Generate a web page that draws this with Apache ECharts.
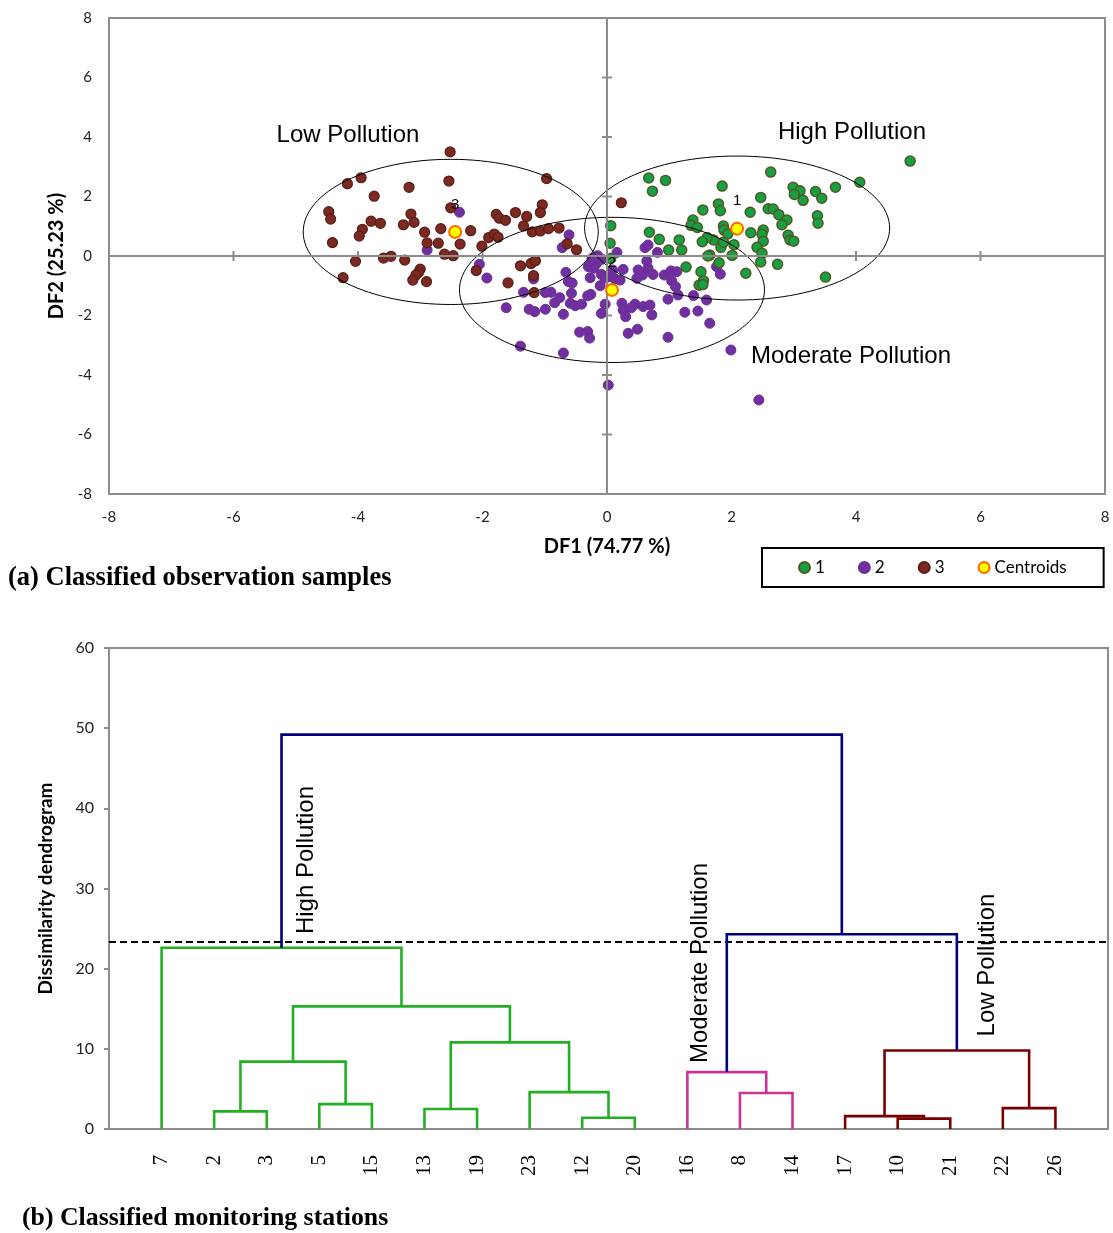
<!DOCTYPE html>
<html><head><meta charset="utf-8">
<script src="https://cdn.jsdelivr.net/npm/echarts@6/dist/echarts.min.js"></script>
<style>html,body{margin:0;padding:0;background:#fff}#c{width:1113px;height:1233px}</style>
</head><body><div id="c"></div>
<script>
// ---------- (a) discriminant scores ----------
const group1 = [[4.87,3.19],[4.06,2.48],[3.67,2.31],[3.35,2.17],[3.45,1.94],[3.38,1.35],[3.39,1.10],[2.99,2.31],[3.10,2.19],[3.01,2.07],[3.15,1.87],[2.63,2.82],[2.47,1.97],[2.59,1.59],[2.67,1.58],[2.76,1.39],[2.89,1.21],[2.81,1.05],[2.91,0.70],[2.94,0.54],[3.00,0.50],[2.30,1.47],[1.85,2.35],[1.79,1.75],[1.82,1.52],[1.54,1.55],[1.38,1.21],[1.35,1.03],[1.45,0.96],[1.87,1.01],[1.88,0.87],[1.94,0.74],[2.31,0.78],[2.51,0.87],[2.49,0.73],[2.51,0.50],[2.41,0.29],[2.49,0.09],[2.47,-0.20],[2.74,-0.28],[2.23,-0.58],[3.51,-0.71],[2.04,0.38],[2.01,0.02],[1.83,0.29],[1.87,0.46],[1.71,0.54],[1.61,0.62],[1.53,0.48],[1.65,0.03],[1.62,0.00],[1.80,-0.23],[1.51,-0.53],[1.55,-0.83],[1.48,-0.98],[1.54,-0.96],[1.27,-0.37],[1.16,0.54],[1.20,0.20],[0.99,0.20],[0.84,0.56],[0.68,0.80],[0.67,2.62],[0.94,2.54],[0.73,2.18],[0.06,1.02],[0.05,0.43],[0.06,-0.08]];
const group2 = [[-2.37,1.47],[-2.89,0.20],[-0.61,0.71],[-0.72,0.28],[-2.05,-0.28],[-1.93,-0.74],[-1.34,-1.22],[-1.18,-0.77],[-1.62,-1.74],[-1.25,-1.79],[-1.16,-1.87],[-0.99,-1.79],[-0.90,-1.22],[-0.84,-1.57],[-0.99,-1.23],[-0.70,-1.96],[-0.44,-2.56],[-0.31,-2.54],[-0.28,-2.76],[-0.70,-3.26],[-1.39,-3.03],[0.34,-2.60],[0.49,-2.46],[0.98,-2.73],[1.99,-3.16],[0.02,-4.34],[2.44,-4.84],[0.16,0.12],[0.61,0.28],[0.66,0.37],[0.81,0.12],[-0.24,-0.08],[-0.15,0.01],[-0.30,-0.36],[-0.17,-0.25],[-0.66,-0.55],[-0.62,-0.86],[-0.27,-0.73],[-0.09,-0.62],[0.02,-0.70],[0.13,-0.77],[0.26,-0.45],[0.21,-0.81],[-0.11,-1.00],[-0.26,-1.29],[-0.31,-1.34],[-0.57,-1.25],[-0.76,-1.40],[-0.59,-1.59],[-0.51,-1.67],[-0.41,-1.62],[-0.03,-1.62],[-0.09,-1.93],[0.24,-1.59],[0.26,-1.82],[0.30,-2.04],[0.45,-1.62],[0.58,-1.70],[0.69,-1.65],[0.72,-1.98],[0.50,-0.47],[0.57,-0.64],[0.66,-0.41],[0.64,-0.17],[0.74,-0.62],[0.48,-0.75],[0.92,-0.64],[1.03,-0.50],[1.12,-0.53],[1.04,-0.84],[1.10,-1.03],[0.98,-1.45],[1.14,-1.31],[1.39,-1.33],[1.60,-1.48],[1.25,-1.89],[1.46,-1.85],[1.76,-0.36],[1.82,-0.61],[1.65,-2.26],[-0.21,-0.17],[-0.08,-0.11],[0.05,-0.61],[0.09,-0.47],[-0.03,-0.74],[0.39,-1.74],[-0.28,-0.31],[-0.21,-0.41],[-0.56,-0.91]];
const group3 = [[-2.52,3.50],[-4.17,2.43],[-3.95,2.63],[-3.18,2.31],[-2.54,2.52],[-0.97,2.60],[-3.74,2.01],[-4.47,1.49],[-4.44,1.24],[-3.15,1.41],[-2.51,1.62],[-3.79,1.17],[-3.64,1.10],[-3.27,1.05],[-3.10,1.13],[-3.93,0.90],[-3.98,0.67],[-4.41,0.45],[-2.93,0.80],[-2.67,0.92],[-2.89,0.44],[-2.71,0.43],[-2.36,0.40],[-2.19,0.85],[-2.61,0.06],[-2.47,0.01],[-2.01,0.33],[-1.90,0.62],[-1.81,0.74],[-1.75,0.63],[-1.78,1.40],[-1.73,1.27],[-1.63,1.20],[-1.47,1.46],[-1.29,1.33],[-1.04,1.72],[-1.07,1.46],[-1.34,1.01],[-1.20,0.81],[-1.07,0.84],[-0.94,0.92],[-0.77,0.94],[-0.64,0.41],[-0.49,0.21],[-4.04,-0.18],[-3.59,-0.07],[-3.47,-0.01],[-3.25,-0.14],[-3.00,-0.44],[-3.03,-0.56],[-3.07,-0.64],[-3.12,-0.81],[-2.90,-0.86],[-4.24,-0.73],[-2.10,-0.49],[-1.59,-0.90],[-1.39,-0.33],[-1.22,-0.25],[-1.15,-0.16],[-1.18,-0.66],[-1.17,-1.23],[0.23,1.79]];
const centroids = [[2.09,0.92],[0.08,-1.14],[-2.44,0.81]];
const centroidNames = ['1','2','3'];
// ellipse: centre x, centre y, radius x, radius y (DF units)
const ellipses = [[2.09,0.94,2.45,2.42],[0.08,-1.14,2.45,2.44],[-2.51,0.81,2.37,2.44]];
const ellipseNames = ['High Pollution','Moderate Pollution','Low Pollution'];
const crossTicks = [-6,-4,-2,2,4,6];
const seriesNames = ['1','2','3','Centroids'];

// ---------- (b) dendrogram ----------
const leafLabels = ['7','2','3','5','15','13','19','23','12','20','16','8','14','17','10','21','22','26'];
// [child A, child B, dissimilarity, cluster] ; children 0..17 are leaves, 18+ are earlier merges
const merges = [
  [1,2,2.2,'high'],[3,4,3.1,'high'],[18,19,8.4,'high'],[5,6,2.5,'high'],[8,9,1.4,'high'],
  [7,22,4.6,'high'],[21,23,10.8,'high'],[20,24,15.3,'high'],[0,25,22.6,'high'],
  [11,12,4.5,'moderate'],[10,27,7.1,'moderate'],
  [14,15,1.3,'low'],[13,29,1.6,'low'],[16,17,2.6,'low'],[30,31,9.8,'low'],
  [28,32,24.3,'link'],[26,33,49.2,'link']
];
const cutHeight = 23.4;
const dendroNames = ['High Pollution','Moderate Pollution','Low Pollution'];

const clusterColors = {high:'#22b022', moderate:'#cc3399', low:'#7a0000', link:'#000080'};
const nodeX = leafLabels.map((_, i) => i + 1);
const nodeY = leafLabels.map(() => 0);
const links = [];
merges.forEach(([a, b, h, g]) => {
  links.push([nodeX[a], nodeY[a], nodeX[b], nodeY[b], h, g]);
  nodeX.push((nodeX[a] + nodeX[b]) / 2);
  nodeY.push(h);
});

const tickData = crossTicks.map(v => [v, 0, 0]).concat(crossTicks.map(v => [0, v, 1]));
const axisFont = 'Lato';
const grey = '#8c8c8c';

const chart = echarts.init(document.getElementById('c'), null, {renderer:'canvas'});
chart.setOption({
  animation: false,
  backgroundColor: '#fff',
  grid: [
    {left:109, top:18, width:996, height:476, show:true, borderColor:grey, borderWidth:2, backgroundColor:'transparent'},
    {left:109, top:648, width:999, height:481, show:true, borderColor:grey, borderWidth:2, backgroundColor:'transparent'}
  ],
  legend: {
    data: seriesNames, left:762, top:548, orient:'horizontal',
    borderColor:'#000', borderWidth:2, padding:[11,37,11,36], itemGap:33,
    itemWidth:11, itemHeight:11, icon:'circle',
    textStyle:{fontSize:17, fontFamily:axisFont, color:'#000'}
  },
  xAxis: [
    {gridIndex:0, type:'value', min:-8, max:8, interval:2,
     axisLine:{show:false, onZero:false}, axisTick:{show:false}, splitLine:{show:false},
     axisLabel:{fontSize:15, fontFamily:axisFont, color:'#222', margin:16},
     name:'DF1 (74.77 %)', nameLocation:'middle', nameGap:43,
     nameTextStyle:{fontSize:20, fontWeight:'bold', fontFamily:axisFont, color:'#000'}},
    {gridIndex:1, type:'value', min:0, max:19, interval:1,
     axisLine:{show:true, onZero:false, lineStyle:{color:grey, width:2}}, axisTick:{show:false}, splitLine:{show:false},
     axisLabel:{rotate:90, margin:26, fontSize:21, fontFamily:'Liberation Serif', color:'#000',
       formatter: v => leafLabels[v - 1] || ''}}
  ],
  yAxis: [
    {gridIndex:0, type:'value', min:-8, max:8, interval:2,
     axisLine:{show:false, onZero:false}, axisTick:{show:false}, splitLine:{show:false},
     axisLabel:{fontSize:15, fontFamily:axisFont, color:'#222', margin:17},
     name:'DF2 (25.23 %)', nameLocation:'middle', nameGap:35,
     nameTextStyle:{fontSize:20, fontWeight:'bold', fontFamily:axisFont, color:'#000'}},
    {gridIndex:1, type:'value', min:0, max:60, interval:10,
     axisLine:{show:true, onZero:false, lineStyle:{color:grey, width:2}},
     axisTick:{show:true, length:5, lineStyle:{color:grey, width:2}}, splitLine:{show:false},
     axisLabel:{fontSize:16, fontFamily:axisFont, color:'#222', margin:15},
     name:'Dissimilarity dendrogram', nameLocation:'middle', nameGap:54,
     nameTextStyle:{fontSize:19, fontWeight:'bold', fontFamily:axisFont, color:'#000'}}
  ],
  series: [
    {type:'custom', name:'ticks', xAxisIndex:0, yAxisIndex:0, z:1, silent:true, data:tickData,
     renderItem:(params, api) => {
       const p = api.coord([api.value(0), api.value(1)]);
       const vert = api.value(2) === 0;
       return {type:'line', shape: vert ? {x1:p[0], y1:p[1]-5, x2:p[0], y2:p[1]+5} : {x1:p[0]-5, y1:p[1], x2:p[0]+5, y2:p[1]},
               style:{stroke:grey, lineWidth:2}};
     },
     markLine:{silent:true, symbol:'none', label:{show:false}, lineStyle:{color:grey, width:2, type:'solid'},
       data:[{xAxis:0},{yAxis:0}]}},
    {type:'custom', name:'ellipses', xAxisIndex:0, yAxisIndex:0, z:4, silent:true, data:ellipses,
     renderItem:(params, api) => {
       const c = api.coord([api.value(0), api.value(1)]);
       const s = api.size([api.value(2), api.value(3)]);
       return {type:'ellipse', shape:{cx:c[0], cy:c[1], rx:s[0], ry:s[1]}, style:{fill:null, stroke:'#000', lineWidth:1}};
     }},
    {type:'scatter', name:'2', xAxisIndex:0, yAxisIndex:0, z:2, data:group2, symbolSize:10,
     itemStyle:{color:'#7030a0', borderColor:'#6a2e98', borderWidth:1, opacity:1}},
    {type:'scatter', name:'3', xAxisIndex:0, yAxisIndex:0, z:2, data:group3, symbolSize:10,
     itemStyle:{color:'#7b2a22', borderColor:'#5a1c16', borderWidth:1.2, opacity:1}},
    {type:'scatter', name:'1', xAxisIndex:0, yAxisIndex:0, z:2, data:group1, symbolSize:10,
     itemStyle:{color:'#17a043', borderColor:'#4f5a22', borderWidth:1.5, opacity:1}},
    {type:'scatter', name:'Centroids', xAxisIndex:0, yAxisIndex:0, z:5, data:centroids, symbolSize:12,
     itemStyle:{color:'#ffff00', borderColor:'#ff6600', borderWidth:2, opacity:1},
     label:{show:true, position:'top', distance:13, fontSize:15, fontFamily:'Liberation Sans', color:'#000',
       formatter: p => centroidNames[p.dataIndex]}},
    {type:'custom', name:'dendrogram', xAxisIndex:1, yAxisIndex:1, z:3, silent:true, data:links,
     renderItem:(params, api) => {
       const l = links[params.dataIndex];
       const pts = [api.coord([l[0], l[1]]), api.coord([l[0], l[4]]), api.coord([l[2], l[4]]), api.coord([l[2], l[3]])];
       return {type:'polyline', shape:{points:pts}, style:{stroke:clusterColors[l[5]], lineWidth:2.6, fill:null}};
     },
     markLine:{silent:true, symbol:'none', label:{show:false}, z:2,
       lineStyle:{color:'#000', width:2, type:[7,4]}, data:[{yAxis:cutHeight}]}}
  ],
  graphic: [
    {type:'text', x:8, y:578, style:{text:'(a) Classified observation samples', fontSize:26.5, fontWeight:'bold', fontFamily:'Liberation Serif', fill:'#000', verticalAlign:'middle'}},
    {type:'text', x:22, y:1218, style:{text:'(b) Classified monitoring stations', fontSize:25.8, fontWeight:'bold', fontFamily:'Liberation Serif', fill:'#000', verticalAlign:'middle'}},
    {type:'text', x:852, y:132, style:{text:ellipseNames[0], fontSize:24, fontFamily:'Liberation Sans', fill:'#000', align:'center', verticalAlign:'middle'}},
    {type:'text', x:851, y:356, style:{text:ellipseNames[1], fontSize:24, fontFamily:'Liberation Sans', fill:'#000', align:'center', verticalAlign:'middle'}},
    {type:'text', x:348, y:135, style:{text:ellipseNames[2], fontSize:24, fontFamily:'Liberation Sans', fill:'#000', align:'center', verticalAlign:'middle'}},
    {type:'text', x:306, y:860, rotation:Math.PI/2, z:10, style:{text:dendroNames[0], fontSize:24, fontFamily:'Liberation Sans', fill:'#000', align:'center', verticalAlign:'middle'}},
    {type:'text', x:700, y:963, rotation:Math.PI/2, z:10, style:{text:dendroNames[1], fontSize:24, fontFamily:'Liberation Sans', fill:'#000', align:'center', verticalAlign:'middle'}},
    {type:'text', x:987, y:965, rotation:Math.PI/2, z:10, style:{text:dendroNames[2], fontSize:24, fontFamily:'Liberation Sans', fill:'#000', align:'center', verticalAlign:'middle'}}
  ]
});
</script>
</body></html>
